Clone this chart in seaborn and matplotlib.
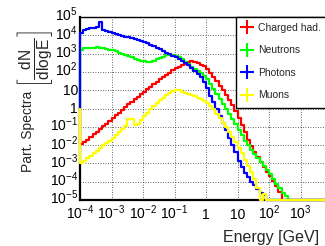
import numpy as np
import pandas as pd
import matplotlib
matplotlib.use("Agg")
import matplotlib.pyplot as plt
import seaborn as sns
from matplotlib.lines import Line2D
from matplotlib.patches import Rectangle
from matplotlib.ticker import LogLocator, NullFormatter
from matplotlib.transforms import ScaledTranslation

# ---------------- data (log10 of bin content, bins of 0.1 in log10 E) -------------
LOG10E_FIRST_EDGE = -4.0
LOG10E_BIN_WIDTH = 0.1
N_BINS = 80

CHARGED_LOG10 = [
    -1.95, -1.85, -1.70, -1.55, -1.40, -1.27, -1.12, -0.97, -0.82, -0.66,
    -0.50, -0.37, -0.22, -0.08, 0.07, 0.22, 0.37, 0.50, 0.64, 0.78,
    0.92, 1.06, 1.20, 1.33, 1.46, 1.59, 1.72, 1.84, 1.96, 2.08,
    2.20, 2.29, 2.37, 2.45, 2.53, 2.57, 2.53, 2.47, 2.38, 2.30,
    2.15, 1.95, 1.73, 1.50, 1.25, 1.00, 0.73, 0.45, 0.17, -0.15,
    -0.50, -0.90, -1.30, -1.70, -2.05, -2.35, -2.65, -2.95, -3.20, -3.45,
    -3.70, -3.95, -4.25, -4.55,
]
NEUTRONS_LOG10 = [
    3.20, 3.30, 3.28, 3.33, 3.30, 3.37, 3.31, 3.28, 3.27, 3.22,
    3.20, 3.13, 3.06, 3.00, 2.93, 2.86, 2.82, 2.73, 2.66, 2.62,
    2.60, 2.55, 2.53, 2.60, 2.70, 2.78, 2.84, 2.90, 2.93, 2.95,
    2.88, 2.80, 2.68, 2.55, 2.42, 2.28, 2.17, 2.05, 1.92, 1.78,
    1.60, 1.35, 1.07, 0.80, 0.50, 0.25, 0.00, -0.30, -0.60, -0.87,
    -1.15, -1.45, -1.75, -2.00, -2.25, -2.47, -2.72, -2.95, -3.15, -3.37,
    -3.60, -3.85, -4.10, -4.35, -4.60, -4.80,
]
PHOTONS_LOG10 = [
    4.10, 4.30, 4.35, 4.38, 4.40, 4.47, 4.70, 4.28, 4.22, 4.17,
    4.12, 4.07, 4.02, 3.97, 3.93, 3.88, 3.83, 3.78, 3.73, 3.68,
    3.62, 3.56, 3.48, 3.40, 3.32, 3.24, 3.14, 3.05, 2.97, 2.88,
    2.79, 2.70, 2.60, 2.50, 2.38, 2.22, 2.05, 1.87, 1.70, 1.45,
    1.10, 0.70, 0.33, -0.05, -0.42, -0.80, -1.20, -1.60, -2.00, -2.40,
    -2.85, -3.20, -3.50, -3.75, -4.00, -4.20, -4.40, -4.60, -4.75,
]
MUONS_LOG10 = [
    -3.00, -2.85, -2.72, -2.60, -2.45, -2.30, -2.15, -2.02, -1.88, -1.75,
    -1.60, -1.45, -1.30, -1.13, -0.95, -0.55, -0.58, -0.90, -0.85, -0.62,
    -0.42, -0.25, -0.05, 0.15, 0.30, 0.45, 0.60, 0.72, 0.85, 0.95,
    1.02, 1.00, 0.90, 0.85, 0.80, 0.74, 0.66, 0.58, 0.50, 0.40,
    0.30, 0.12, -0.05, -0.30, -0.52, -0.80, -1.00, -1.30, -1.55, -1.85,
    -2.15, -2.45, -2.80, -3.15, -3.45, -3.85, -4.35, None, -4.65,
]

SERIES_NAMES = ["Charged had.", "Neutrons", "Photons", "Muons"]
SERIES_COLORS = ["#ff0000", "#00ff00", "#0000ff", "#ffff00"]

X_TICKS = [1e-4, 1e-3, 1e-2, 1e-1, 1, 10, 1e2, 1e3]
X_TICK_LABELS = [r"$\mathdefault{10^{-4}}$", r"$\mathdefault{10^{-3}}$",
                 r"$\mathdefault{10^{-2}}$", r"$\mathdefault{10^{-1}}$",
                 "1", "10", r"$\mathdefault{10^{2}}$", r"$\mathdefault{10^{3}}$"]
Y_TICKS = [1e-5, 1e-4, 1e-3, 1e-2, 1e-1, 1, 10, 1e2, 1e3, 1e4, 1e5]
Y_TICK_LABELS = [r"$\mathdefault{10^{-5}}$", r"$\mathdefault{10^{-4}}$",
                 r"$\mathdefault{10^{-3}}$", r"$\mathdefault{10^{-2}}$",
                 r"$\mathdefault{10^{-1}}$", "1", "10",
                 r"$\mathdefault{10^{2}}$", r"$\mathdefault{10^{3}}$",
                 r"$\mathdefault{10^{4}}$", r"$\mathdefault{10^{5}}$"]
X_LABEL = "Energy [GeV]"
Y_LABEL_TEXT = "Part. Spectra"
Y_LABEL_UNIT = r"$\left[\frac{\mathdefault{dN}}{\mathdefault{dlogE}}\right]$"

X_LIM = (1e-4, 1e4)
Y_LIM = (1e-5, 1e5)
HIST_BASELINE = 1.0   # ROOT-style start of the outline

# ---------------- style ----------------
sns.set_theme(style="white")
plt.rcParams["font.family"] = ["Liberation Sans", "DejaVu Sans"]
plt.rcParams["mathtext.fontset"] = "custom"
plt.rcParams["mathtext.rm"] = "Liberation Sans"
plt.rcParams["mathtext.it"] = "Liberation Sans:italic"
plt.rcParams["mathtext.bf"] = "Liberation Sans:bold"

edges = 10 ** (LOG10E_FIRST_EDGE + LOG10E_BIN_WIDTH * np.arange(N_BINS + 1))


def bin_values(logs):
    vals = np.zeros(N_BINS)
    for i, l in enumerate(logs):
        if l is not None:
            vals[i] = 10 ** l
    return vals


frames = []
for name, logs in zip(SERIES_NAMES, [CHARGED_LOG10, NEUTRONS_LOG10, PHOTONS_LOG10, MUONS_LOG10]):
    v = bin_values(logs)
    shown = np.where(v > 0, v, Y_LIM[0])   # empty bins drawn on the frame bottom (ROOT)
    xs = np.concatenate([[edges[0]], edges])
    ys = np.concatenate([[HIST_BASELINE], shown, [shown[-1]]])
    frames.append(pd.DataFrame({"E": xs, "N": ys, "series": name}))
df = pd.concat(frames, ignore_index=True)

fig = plt.figure(figsize=(3.25, 2.46), dpi=100)
W, H = 325.0, 246.0
ax = fig.add_axes([80 / W, 1 - 200 / H, 252 / W, 183 / H])

sns.lineplot(data=df, x="E", y="N", hue="series", hue_order=SERIES_NAMES,
             palette=dict(zip(SERIES_NAMES, SERIES_COLORS)), estimator=None,
             sort=False, drawstyle="steps-post", linewidth=1.6, legend=False,
             ax=ax, zorder=3, clip_on=False)

ax.set_xscale("log")
ax.set_yscale("log")
ax.set_xlim(*X_LIM)
ax.set_ylim(*Y_LIM)
ax.set_xlabel("")
ax.set_ylabel("")

ax.set_xticks(X_TICKS, X_TICK_LABELS)
ax.set_yticks(Y_TICKS, Y_TICK_LABELS)
ax.xaxis.set_minor_locator(LogLocator(base=10, subs=np.arange(2, 10), numticks=100))
ax.yaxis.set_minor_locator(LogLocator(base=10, subs=np.arange(2, 10), numticks=100))
ax.xaxis.set_minor_formatter(NullFormatter())
ax.yaxis.set_minor_formatter(NullFormatter())

ax.tick_params(which="both", direction="in", colors="black", top=False, right=False,
               labelsize=10)
ax.tick_params(which="major", length=4, width=1)
ax.tick_params(which="minor", length=2.2, width=0.8)
ax.tick_params(axis="x", which="major", pad=13.5)
ax.tick_params(axis="y", which="major", pad=1.5)

for lab in ax.get_xticklabels():
    lab.set_verticalalignment("baseline")
for lab in ax.get_yticklabels():
    lab.set_verticalalignment("baseline")
    lab.set_transform(lab.get_transform() + ScaledTranslation(0, -3.2 / 72, fig.dpi_scale_trans))

ax.grid(True, which="major", color="#333333", linestyle=(0, (1, 2)), linewidth=0.6)
for side in ["left", "bottom"]:
    ax.spines[side].set_linewidth(1.6)
    ax.spines[side].set_color("black")
ax.spines["top"].set_linewidth(1.0)
ax.spines["top"].set_color("black")
ax.spines["right"].set_visible(False)

# legend box: white fill plus an open border that runs past the right edge (cropped original)
LEG_L, LEG_T, LEG_B, LEG_R = 236 / W, 1 - 17 / H, 1 - 108 / H, 360 / W
fig.add_artist(Rectangle((LEG_L, LEG_B), LEG_R - LEG_L, LEG_T - LEG_B, transform=fig.transFigure,
                         facecolor="white", edgecolor="none", zorder=4.5))
fig.add_artist(Line2D([LEG_R, LEG_L, LEG_L, LEG_R], [LEG_T, LEG_T, LEG_B, LEG_B],
                      transform=fig.transFigure, color="black", linewidth=1.0, zorder=4.6))
handles = [Line2D([], [], color=c, marker="+", markersize=9.5, markeredgewidth=1.5,
                  linestyle="none") for c in SERIES_COLORS]
leg = fig.legend(handles, SERIES_NAMES, loc="upper left",
                 bbox_to_anchor=(LEG_L, LEG_T), bbox_transform=fig.transFigure,
                 borderaxespad=0, fontsize=7.5, frameon=False,
                 handlelength=1.05, handletextpad=0.55, borderpad=0.55, labelspacing=1.2)
leg.set_zorder(5)

fig.text(223 / W, 1 - 242 / H, X_LABEL, ha="left", va="baseline", fontsize=11.5)
fig.text(28 / W, 1 - 172 / H, Y_LABEL_TEXT, rotation=90, ha="center", va="bottom", fontsize=10)
fig.text(35 / W, 1 - 88 / H, Y_LABEL_UNIT, rotation=90, ha="center", va="bottom", fontsize=16)

fig.savefig("out.png", dpi=100)
